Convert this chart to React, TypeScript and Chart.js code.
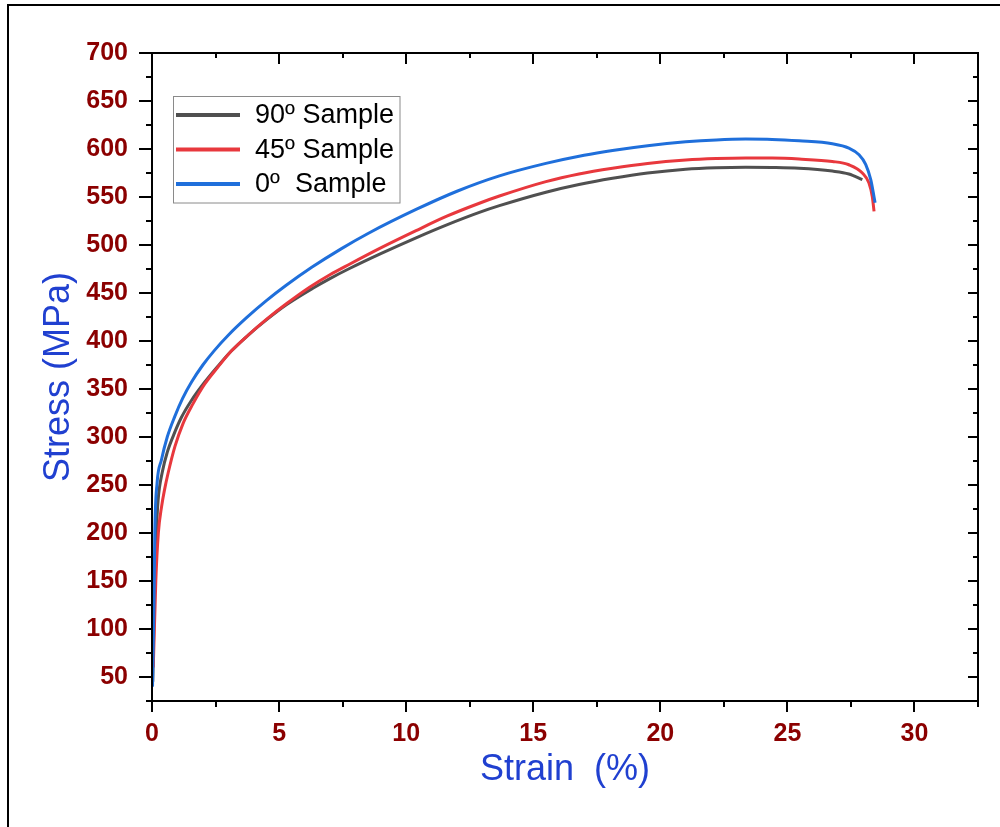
import React, { useEffect, useRef } from "react";
import { Chart, registerables } from "chart.js";

Chart.register(...registerables);

// ---------- data ----------
const seriesNames = ["90º Sample", "45º Sample", "0º  Sample"];
const seriesColors = ["#505050", "#e8383d", "#1f6fdb"];

const strain90 = [0.03, 0.1, 0.17, 0.24, 0.41, 0.6, 0.85, 1.15, 1.55, 2.07, 2.6, 3.12, 3.8, 4.5, 5.3, 6.33, 7.0, 7.77, 9.0, 10.39, 11.6, 12.88, 13.67, 15.5, 16.8, 18.12, 19.5, 21.0, 22.2, 23.36, 24.4, 25.46, 26.77, 27.42, 27.95];
const stress90 = [45, 140, 200, 234, 264, 284, 302, 320, 338, 357, 374, 389.5, 406.5, 422, 438, 455, 465, 475.5, 491, 507.5, 521, 534, 541, 555, 563, 569.5, 575, 579, 580.5, 581, 580.8, 580, 577, 574, 568];

const strain45 = [0.05, 0.15, 0.25, 0.38, 0.5, 0.63, 0.9, 1.22, 1.6, 2.07, 2.6, 3.12, 3.8, 4.5, 5.3, 6.2, 7.0, 7.77, 9.0, 10.39, 11.6, 12.88, 13.67, 15.5, 16.8, 18.12, 19.5, 21.0, 22.2, 23.36, 24.4, 25.46, 26.77, 27.42, 27.95, 28.21, 28.34, 28.41];
const stress45 = [60, 150, 200, 228, 246, 262, 290, 314, 334, 355, 373, 389.5, 406.5, 422.5, 439, 456, 469, 480, 497, 515, 530, 543.5, 551, 566, 574, 580, 585, 588.5, 590, 590.6, 590.5, 589.5, 587, 583.6, 575, 564.5, 550.5, 535];

const strain0 = [0.02, 0.08, 0.11, 0.2, 0.37, 0.6, 0.89, 1.2, 1.55, 2.0, 2.45, 3.0, 3.71, 4.5, 5.28, 6.3, 7.44, 8.5, 10.39, 12.0, 13.67, 15.5, 17.0, 18.12, 19.5, 21.0, 22.2, 23.36, 24.4, 25.46, 26.77, 27.42, 27.82, 28.08, 28.28, 28.41, 28.45];
const stress0 = [40, 130, 200, 252, 276, 300, 321, 340, 357, 375, 390, 406, 424, 442, 458, 477, 496, 512, 537, 556, 572, 585, 593.5, 598.5, 603.5, 607.5, 609.5, 610.3, 610, 608.5, 605.5, 601, 594, 584, 568, 550, 544];

const xTickValues = [0, 5, 10, 15, 20, 25, 30];
const yTickValues = [50, 100, 150, 200, 250, 300, 350, 400, 450, 500, 550, 600, 650, 700];

const X_MIN = 0;
const X_MAX = 32.5;
const X_MAJOR = 5;
const X_MINOR = 2.5;
const Y_MIN = 25;
const Y_MAX = 700;
const Y_MAJOR = 50;
const Y_MINOR = 25;

const toPoints = (xs: number[], ys: number[]) => xs.map((x, i) => ({ x, y: ys[i] }));

const FONT = "'Liberation Sans', Arial, sans-serif";
const TICK_COLOR = "#8b0000";
const TITLE_COLOR = "#2040d0";

const isMultiple = (v: number, step: number) => Math.abs(v / step - Math.round(v / step)) < 1e-6;

const frameTicksPlugin = {
  id: "frameTicks",
  afterDatasetsDraw(chart: any) {
    const { ctx, chartArea } = chart;
    const { left, right, top, bottom } = chartArea;
    const xs = chart.scales.x;
    const ys = chart.scales.y;
    ctx.save();
    ctx.strokeStyle = "#000";
    ctx.lineWidth = 2;
    ctx.lineCap = "butt";
    ctx.beginPath();
    for (let i = 0; X_MIN + i * X_MINOR <= X_MAX + 1e-9; i++) {
      const v = X_MIN + i * X_MINOR;
      const px = Math.round(xs.getPixelForValue(v));
      const major = isMultiple(v, X_MAJOR);
      ctx.moveTo(px, bottom);
      ctx.lineTo(px, bottom + (major ? 11 : 6));
      ctx.moveTo(px, top);
      ctx.lineTo(px, top + (major ? 11 : 5));
    }
    for (let i = 0; Y_MIN + i * Y_MINOR <= Y_MAX + 1e-9; i++) {
      const v = Y_MIN + i * Y_MINOR;
      const py = Math.round(ys.getPixelForValue(v));
      const major = isMultiple(v, Y_MAJOR);
      ctx.moveTo(left, py);
      ctx.lineTo(left - (major ? 13 : 6), py);
      ctx.moveTo(right, py);
      ctx.lineTo(right - (major ? 10 : 5), py);
    }
    ctx.stroke();
    ctx.strokeRect(left, top, right - left, bottom - top);

    // legend
    const lx = 173.5;
    const ly = 96.5;
    const lw = 226.5;
    const lh = 106.5;
    ctx.fillStyle = "#fff";
    ctx.fillRect(lx, ly, lw, lh);
    ctx.strokeStyle = "#8a8a8a";
    ctx.lineWidth = 1;
    ctx.strokeRect(lx, ly, lw, lh);
    const rows = [115, 149.5, 184];
    chart.data.datasets.forEach((ds: any, i: number) => {
      const yy = rows[i];
      ctx.strokeStyle = ds.borderColor;
      ctx.lineWidth = 4;
      ctx.beginPath();
      ctx.moveTo(176, yy);
      ctx.lineTo(240, yy);
      ctx.stroke();
      ctx.fillStyle = "#000";
      ctx.font = `27px ${FONT}`;
      ctx.textAlign = "left";
      ctx.textBaseline = "middle";
      ctx.fillText(ds.label, 255, yy + 1);
    });
    ctx.restore();
  },
};

export default function App() {
  const ref = useRef<HTMLCanvasElement>(null);

  useEffect(() => {
    const canvas = ref.current;
    if (!canvas) return;
    const data = [
      toPoints(strain90, stress90),
      toPoints(strain45, stress45),
      toPoints(strain0, stress0),
    ];
    const chart = new Chart(canvas, {
      type: "scatter",
      data: {
        datasets: data.map((pts, i) => ({
          label: seriesNames[i],
          data: pts,
          showLine: true,
          borderColor: seriesColors[i],
          backgroundColor: seriesColors[i],
          borderWidth: 3,
          pointRadius: 0,
          pointHoverRadius: 0,
          cubicInterpolationMode: "monotone",
          order: 2 - i,
        })),
      },
      options: {
        responsive: false,
        animation: false,
        devicePixelRatio: 1,
        layout: { padding: { left: 0, right: 22, top: 53, bottom: 0 } },
        plugins: {
          legend: { display: false },
          tooltip: { enabled: false },
        },
        scales: {
          x: {
            type: "linear",
            min: X_MIN,
            max: X_MAX,
            afterBuildTicks: (scale: any) => {
              scale.ticks = xTickValues.map((v) => ({ value: v }));
            },
            afterFit: (scale: any) => {
              scale.height = 126;
            },
            grid: { display: false, drawTicks: false },
            border: { display: false },
            ticks: {
              color: TICK_COLOR,
              padding: 18,
              maxRotation: 0,
              autoSkip: false,
              font: { family: FONT, size: 25, weight: "bold" },
              callback: (v: any) => String(v),
            },
            title: {
              display: true,
              text: "Strain  (%)",
              color: TITLE_COLOR,
              font: { family: FONT, size: 36 },
              padding: { top: 0, bottom: 35 },
            },
          },
          y: {
            type: "linear",
            min: Y_MIN,
            max: Y_MAX,
            afterBuildTicks: (scale: any) => {
              scale.ticks = yTickValues.map((v) => ({ value: v }));
            },
            afterFit: (scale: any) => {
              scale.width = 152;
            },
            grid: { display: false, drawTicks: false },
            border: { display: false },
            ticks: {
              color: TICK_COLOR,
              padding: 24,
              autoSkip: false,
              font: { family: FONT, size: 25, weight: "bold" },
              callback: (v: any) => String(v),
            },
            title: {
              display: true,
              text: "Stress (MPa)",
              color: TITLE_COLOR,
              font: { family: FONT, size: 36 },
              padding: { top: 37, bottom: 0 },
            },
          },
        },
      },
      plugins: [frameTicksPlugin],
    } as any);
    return () => chart.destroy();
  }, []);

  return (
    <div
      style={{
        position: "absolute",
        left: 0,
        top: 0,
        width: 1000,
        height: 827,
        overflow: "hidden",
        background: "#fff",
      }}
    >
      <div
        style={{
          position: "absolute",
          left: 7,
          top: 4,
          width: 1100,
          height: 1000,
          border: "2px solid #000",
          boxSizing: "border-box",
        }}
      />
      <canvas
        ref={ref}
        width={1000}
        height={827}
        style={{ position: "absolute", left: 0, top: 0, width: 1000, height: 827 }}
      />
    </div>
  );
}
